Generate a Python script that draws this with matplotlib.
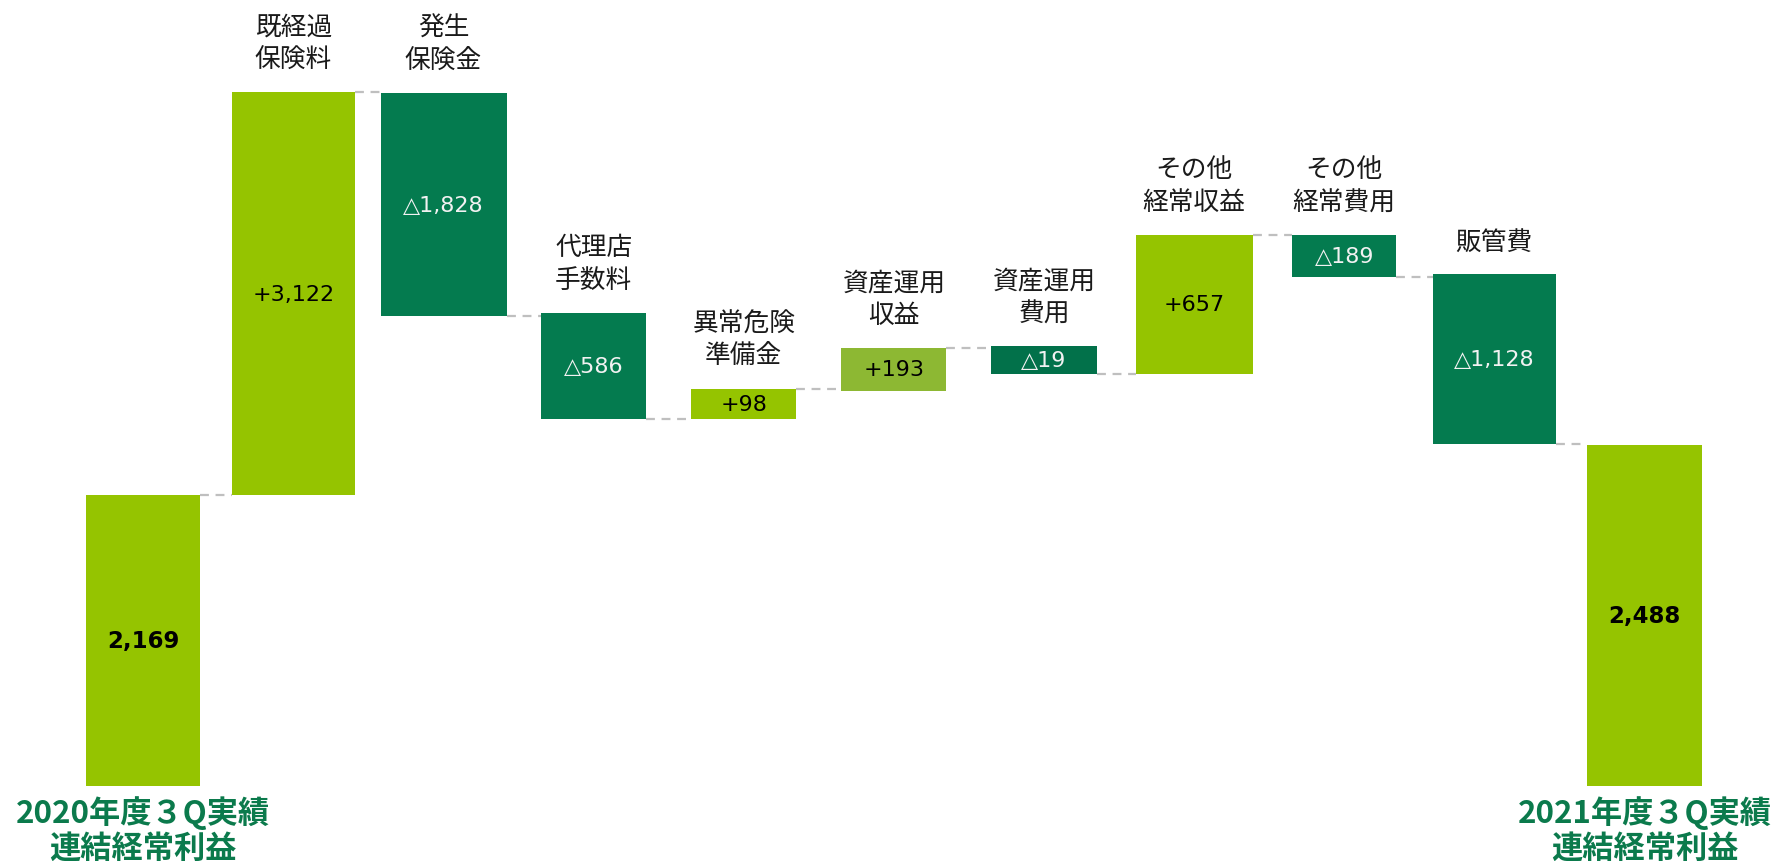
import matplotlib
matplotlib.use("Agg")
import matplotlib.pyplot as plt

plt.rcParams['font.family'] = ['Noto Sans CJK JP', 'DejaVu Sans']

# waterfall steps (levels, baseline = 0)
labels = ['', '既経過\n保険料', '発生\n保険金', '代理店\n手数料', '異常危険\n準備金',
          '資産運用\n収益', '資産運用\n費用', 'その他\n経常収益', 'その他\n経常費用',
          '販管費', '']
value_text = ['2,169', '+3,122', '△1,828', '△586', '+98', '+193', '△19',
              '+657', '△189', '△1,128', '2,488']
start = [0, 257, 612, 418, 324, 349, 389, 364, 487, 452, 301]
end = [257, 613, 415, 324, 351, 387, 364, 487, 450, 302, 0]
kind = ['total', 'up', 'down', 'down', 'up', 'up2', 'down2', 'up', 'down', 'down', 'total']
bottom_text = ['2020年度３Q実績\n連結経常利益', '2021年度３Q実績\n連結経常利益']

colors = {'total': '#95C400', 'up': '#95C400', 'up2': '#8DB833',
          'down': '#047B4F', 'down2': '#02714A'}
dark_green = '#0B7A4C'
# bar widths as drawn on the slide (not all the same)
widths = [0.76, 0.82, 0.84, 0.70, 0.70, 0.70, 0.70, 0.78, 0.69, 0.82, 0.77]

fig = plt.figure(figsize=(17.77, 8.62), dpi=100)
ax = fig.add_axes([0, 0, 1, 1])
ax.set_xlim(-0.955, 10.883)
ax.set_ylim(-66, 695)
ax.axis('off')

x = list(range(len(start)))
for i in x:
    lo = min(start[i], end[i])
    hi = max(start[i], end[i])
    ax.bar(i, hi - lo, bottom=lo, width=widths[i], color=colors[kind[i]], zorder=2)
    dark = kind[i].startswith('down')
    bold = kind[i] == 'total'
    ax.text(i, (lo + hi) / 2, value_text[i], ha='center', va='center',
            color='#F2F2F2' if dark else 'black',
            fontsize=16.5 if bold else 16, fontweight='bold' if bold else 'normal',
            family=['DejaVu Sans', 'Noto Sans CJK JP'], zorder=3)
    if labels[i]:
        ax.annotate(labels[i], (i, hi), xytext=(0, 14), textcoords='offset points',
                    ha='center', va='bottom', fontsize=18.5, linespacing=1.35,
                    color='#1a1a1a')
    if i < len(x) - 1:
        ax.plot([i + widths[i] / 2, i + 1 - widths[i + 1] / 2], [end[i], end[i]],
                ls=(0, (4, 3)), color='#BFBFBF', lw=1.6, zorder=1)

ax.text(0, -8, bottom_text[0], ha='center', va='top', fontsize=22.5,
        fontweight='bold', color=dark_green, linespacing=1.1)
ax.text(10, -8, bottom_text[1], ha='center', va='top', fontsize=22.5,
        fontweight='bold', color=dark_green, linespacing=1.1)

fig.savefig('out.png', dpi=100)
